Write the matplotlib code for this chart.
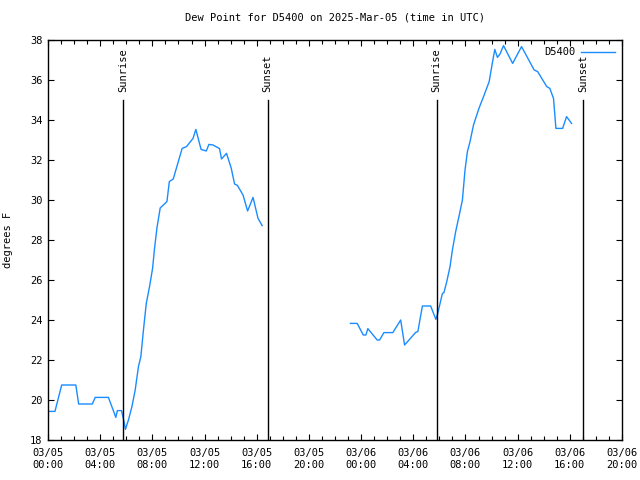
import matplotlib
matplotlib.use("Agg")
import matplotlib.pyplot as plt
import matplotlib.dates as mdates
import numpy as np
import pandas as pd

title = "Dew Point for D5400 on 2025-Mar-05 (time in UTC)"
series_name = "D5400"

times = [
    "2025-03-05 00:06", "2025-03-05 00:32", "2025-03-05 01:03", "2025-03-05 02:08",
    "2025-03-05 02:21", "2025-03-05 03:24", "2025-03-05 03:37", "2025-03-05 04:38",
    "2025-03-05 05:12", "2025-03-05 05:19", "2025-03-05 05:38", "2025-03-05 05:50",
    "2025-03-05 05:56", "2025-03-05 06:10", "2025-03-05 06:26", "2025-03-05 06:41",
    "2025-03-05 06:56", "2025-03-05 07:07", "2025-03-05 07:19", "2025-03-05 07:32",
    "2025-03-05 07:47", "2025-03-05 08:01", "2025-03-05 08:10", "2025-03-05 08:21",
    "2025-03-05 08:36", "2025-03-05 09:07", "2025-03-05 09:18", "2025-03-05 09:36",
    "2025-03-05 10:17", "2025-03-05 10:37", "2025-03-05 11:07", "2025-03-05 11:20",
    "2025-03-05 11:44", "2025-03-05 12:08", "2025-03-05 12:20", "2025-03-05 12:39",
    "2025-03-05 13:09", "2025-03-05 13:18", "2025-03-05 13:41", "2025-03-05 14:03",
    "2025-03-05 14:18", "2025-03-05 14:31", "2025-03-05 14:57", "2025-03-05 15:18",
    "2025-03-05 15:43", "2025-03-05 16:06", "2025-03-05 16:25",
    "2025-03-05 23:11", "2025-03-05 23:42", "2025-03-06 00:10", "2025-03-06 00:22",
    "2025-03-06 00:31", "2025-03-06 01:14", "2025-03-06 01:25", "2025-03-06 01:45",
    "2025-03-06 02:26", "2025-03-06 03:02", "2025-03-06 03:20", "2025-03-06 04:11",
    "2025-03-06 04:21", "2025-03-06 04:42", "2025-03-06 05:20", "2025-03-06 05:44",
    "2025-03-06 05:54", "2025-03-06 06:14", "2025-03-06 06:21", "2025-03-06 06:34",
    "2025-03-06 06:49", "2025-03-06 07:00", "2025-03-06 07:15", "2025-03-06 07:30",
    "2025-03-06 07:46", "2025-03-06 07:58", "2025-03-06 08:09", "2025-03-06 08:21",
    "2025-03-06 08:37", "2025-03-06 09:02", "2025-03-06 09:26", "2025-03-06 09:49",
    "2025-03-06 10:04", "2025-03-06 10:15", "2025-03-06 10:27", "2025-03-06 10:39",
    "2025-03-06 10:55", "2025-03-06 11:37", "2025-03-06 12:18", "2025-03-06 13:16",
    "2025-03-06 13:32", "2025-03-06 14:14", "2025-03-06 14:28", "2025-03-06 14:45",
    "2025-03-06 14:56", "2025-03-06 15:27", "2025-03-06 15:45", "2025-03-06 16:08",
]
dewpoint = [
    19.43, 19.43, 20.75, 20.75,
    19.80, 19.80, 20.13, 20.13,
    19.13, 19.47, 19.47, 18.90,
    18.53, 19.00, 19.67, 20.50,
    21.67, 22.17, 23.50, 24.83,
    25.67, 26.58, 27.58, 28.60,
    29.60, 29.92, 30.92, 31.05,
    32.58, 32.67, 33.08, 33.53,
    32.53, 32.45, 32.78, 32.75,
    32.57, 32.05, 32.33, 31.58,
    30.80, 30.73, 30.25, 29.45,
    30.13, 29.08, 28.72,
    23.83, 23.83, 23.25, 23.25,
    23.57, 23.00, 23.00, 23.37,
    23.37, 24.00, 22.75, 23.38,
    23.42, 24.70, 24.70, 24.03,
    24.40, 25.33, 25.37, 25.92,
    26.67, 27.50, 28.42, 29.17,
    30.00, 31.50, 32.42, 32.92,
    33.75, 34.58, 35.25, 35.92,
    36.87, 37.53, 37.13, 37.30,
    37.72, 36.83, 37.67, 36.50,
    36.42, 35.67, 35.58, 35.08,
    33.58, 33.58, 34.17, 33.83,
]

sun_times = ["2025-03-05 05:47", "2025-03-05 16:50", "2025-03-06 05:47", "2025-03-06 17:00"]
sun_labels = ["Sunrise", "Sunset", "Sunrise", "Sunset"]
sun_line_top = 35.0

x_start = "2025-03-05 00:00"
x_end = "2025-03-06 20:00"
y_min, y_max = 18, 38

font = "DejaVu Sans Mono"
line_color = "#1a8cff"

t = pd.to_datetime(times)
v = np.array(dewpoint, dtype=float)

# break the line at data gaps longer than three hours
gap = np.where(np.diff(t.values).astype("timedelta64[m]").astype(int) > 180)[0]
segments = np.split(np.arange(len(t)), gap + 1)

fig = plt.figure(figsize=(6.4, 4.8), dpi=100)
ax = fig.add_axes([48 / 640, 40 / 480, 574 / 640, 400 / 480])

for i, seg in enumerate(segments):
    ax.plot(t[seg], v[seg], color=line_color, lw=1.0,
            label=series_name if i == 0 else None)

for st, sl in zip(pd.to_datetime(sun_times), sun_labels):
    ax.plot([st, st], [y_min, sun_line_top], color="black", lw=1.0)
    ax.text(st, sun_line_top + 0.4, sl, rotation=90, ha="center", va="bottom",
            fontsize=7.5, family=font)

ax.set_xlim(pd.Timestamp(x_start), pd.Timestamp(x_end))
ax.set_ylim(y_min, y_max)
ax.set_yticks(np.arange(y_min, y_max + 1, 2))
ax.xaxis.set_major_locator(mdates.HourLocator(byhour=range(0, 24, 4)))
ax.xaxis.set_minor_locator(mdates.HourLocator())
ax.xaxis.set_major_formatter(mdates.DateFormatter("%m/%d\n%H:%M"))
ax.tick_params(which="both", direction="in", top=True, right=True,
               labelsize=7.5, width=0.8)
ax.tick_params(which="major", length=4, pad=6)
ax.tick_params(which="minor", length=3)
ax.tick_params(axis="y", pad=4)
for lab in ax.get_xticklabels() + ax.get_yticklabels():
    lab.set_family(font)
for s in ax.spines.values():
    s.set_linewidth(1.0)

ax.set_ylabel("degrees F", fontsize=7.5, family=font, labelpad=12)
ax.set_title(title, fontsize=7.5, family=font, pad=14)

leg = ax.legend(loc="upper right", frameon=False, markerfirst=False,
                prop={"family": font, "size": 7.5}, handlelength=3.2,
                borderaxespad=0.3, handletextpad=0.6)

fig.savefig("out.png", dpi=100)
